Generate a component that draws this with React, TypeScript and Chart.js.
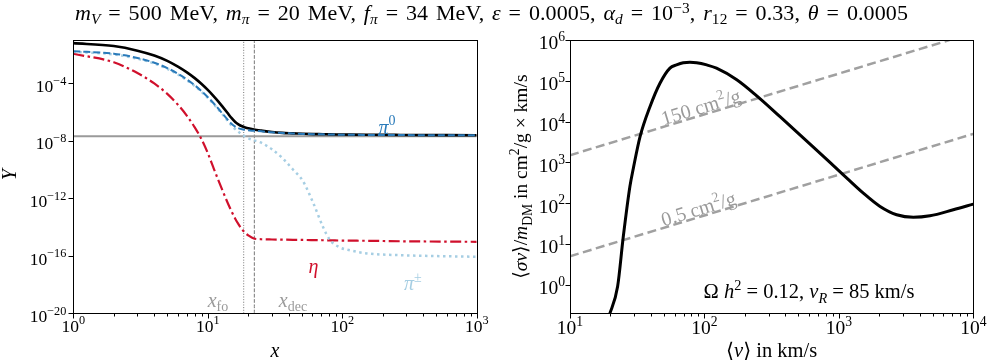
import React, { useEffect, useRef } from 'react';
import { Chart, registerables } from 'chart.js';

Chart.register(...registerables);

const FONT = '"Liberation Serif", "DejaVu Serif", serif';

// ---------- Left panel: abundances Y(x) ----------
const X_GRID = [1, 2, 3, 4, 5, 6, 7, 8, 9, 10, 11, 12, 13, 14, 15, 16, 17, 18, 19, 20, 22, 25, 30, 36, 43, 51, 61, 72, 81, 95, 114, 153, 269, 1000];
const Y_TOTAL = [6.03e-2, 3.8e-2, 1.82e-2, 8.32e-3, 3.55e-3, 1.41e-3, 5.62e-4, 2.24e-4, 8.71e-5, 3.39e-5, 1.32e-5, 5.25e-6, 2.09e-6, 8.71e-7, 3.8e-7, 2.0e-7, 1.32e-7, 1.0e-7, 8.32e-8, 7.24e-8, 6.03e-8, 5.01e-8, 3.98e-8, 3.47e-8, 3.24e-8, 3.02e-8, 2.88e-8, 2.82e-8, 2.75e-8, 2.69e-8, 2.63e-8, 2.57e-8, 2.51e-8, 2.4e-8];
const Y_PI0 = [1.66e-2, 1.12e-2, 5.62e-3, 2.63e-3, 1.12e-3, 4.47e-4, 1.78e-4, 7.08e-5, 2.75e-5, 1.07e-5, 4.17e-6, 1.66e-6, 6.76e-7, 3.02e-7, 1.51e-7, 9.55e-8, 7.24e-8, 6.17e-8, 5.62e-8, 5.25e-8, 4.9e-8, 4.47e-8, 3.8e-8, 3.39e-8, 3.16e-8, 2.95e-8, 2.82e-8, 2.75e-8, 2.69e-8, 2.63e-8, 2.57e-8, 2.51e-8, 2.45e-8, 2.34e-8];
const Y_PIPM = [1.51e-2, 1.0e-2, 5.01e-3, 2.34e-3, 1.0e-3, 3.98e-4, 1.58e-4, 6.31e-5, 2.45e-5, 9.55e-6, 3.72e-6, 1.48e-6, 6.03e-7, 2.51e-7, 1.15e-7, 6.31e-8, 3.98e-8, 2.63e-8, 1.91e-8, 1.48e-8, 1.07e-8, 7.24e-9, 2.51e-9, 6.03e-10, 1.0e-10, 1.58e-11, 4.47e-13, 1.0e-14, 1.26e-15, 3.98e-16, 2.4e-16, 1.45e-16, 1.1e-16, 8.51e-17];
const Y_ETA = [1.1e-2, 2.82e-3, 5.01e-4, 9.55e-5, 1.78e-5, 3.16e-6, 5.37e-7, 8.51e-8, 1.23e-8, 1.38e-9, 1.38e-10, 1.74e-11, 2.75e-12, 5.25e-13, 1.26e-13, 3.8e-14, 1.45e-14, 6.76e-15, 3.89e-15, 2.63e-15, 1.58e-15, 1.41e-15, 1.35e-15, 1.32e-15, 1.29e-15, 1.26e-15, 1.23e-15, 1.2e-15, 1.17e-15, 1.15e-15, 1.12e-15, 1.1e-15, 1.02e-15, 9.33e-16];
const Y_OBS = 2.0e-8;
const X_FO = 18.5;
const X_DEC = 22.2;
const LEFT_X_RANGE = [1, 1000];
const LEFT_Y_RANGE = [1e-20, 1e-1];
const LEFT_X_TICKS = [1, 10, 100, 1000];
const LEFT_Y_TICKS = [1e-20, 1e-16, 1e-12, 1e-8, 1e-4];

// ---------- Right panel: <sigma v>/m vs <v> ----------
const V_GRID = [19.5, 22.6, 24.9, 27.9, 29.6, 33.2, 39.4, 46.7, 55.4, 62, 69.6, 78, 87.5, 104, 123, 174, 245, 365, 646, 1050, 1520, 2025, 2690, 3580, 4760, 7100, 10000];
const SIGV = [0.17, 0.91, 15, 257, 720, 4270, 2.34e4, 8.7e4, 2.04e5, 2.45e5, 2.78e5, 2.85e5, 2.78e5, 2.45e5, 2.04e5, 1.06e5, 4.27e4, 1.32e4, 2380, 540, 176, 83, 52, 45, 49, 69, 95];
const V_REF = [10, 10000];
const REF_150 = [1500, 1.5e6];
const REF_05 = [5, 5000];
const RIGHT_X_RANGE = [10, 10000];
const RIGHT_Y_RANGE = [0.2, 1e6];
const RIGHT_X_TICKS = [10, 100, 1000, 10000];
const RIGHT_Y_TICKS = [1, 10, 100, 1000, 10000, 100000, 1000000];

type Seg = { t: string; i?: boolean; s?: 'sub' | 'sup' };

function segFont(seg: Seg, size: number) {
  const sz = seg.s ? size * 0.7 : size;
  return `${seg.i ? 'italic ' : ''}${sz}px ${FONT}`;
}

function measureRich(ctx: CanvasRenderingContext2D, segs: Seg[], size: number) {
  let w = 0;
  for (const s of segs) {
    ctx.font = segFont(s, size);
    w += ctx.measureText(s.t).width;
  }
  return w;
}

function drawRich(ctx: CanvasRenderingContext2D, segs: Seg[], x: number, y: number, size: number, color: string, align: 'left' | 'center' | 'right' = 'center', rot = 0) {
  ctx.save();
  ctx.translate(x, y);
  ctx.rotate(rot);
  ctx.fillStyle = color;
  ctx.textBaseline = 'alphabetic';
  ctx.textAlign = 'left';
  const w = measureRich(ctx, segs, size);
  let cx = align === 'center' ? -w / 2 : align === 'right' ? -w : 0;
  const base = size * 0.33;
  for (const s of segs) {
    ctx.font = segFont(s, size);
    const dy = s.s === 'sup' ? -size * 0.42 : s.s === 'sub' ? size * 0.22 : 0;
    ctx.fillText(s.t, cx, base + dy);
    cx += ctx.measureText(s.t).width;
  }
  ctx.restore();
}

function expLabel(v: number): Seg[] {
  const e = Math.round(Math.log10(v));
  return [{ t: '10' }, { t: e < 0 ? '\u2212' + Math.abs(e) : String(e), s: 'sup' }];
}

function minorTicks(lo: number, hi: number) {
  const out: number[] = [];
  for (let d = lo; d < hi; d *= 10) for (let k = 2; k <= 9; k++) out.push(d * k);
  return out;
}

function drawFrame(chart: any, xMinor: number[], tickSize: number, xLabDy: number, yLabDx: number) {
  const ctx: CanvasRenderingContext2D = chart.ctx;
  const { left, right, top, bottom } = chart.chartArea;
  const xs = chart.scales.x;
  const ys = chart.scales.y;
  const L = Math.round(left) + 0.5;
  const R = Math.round(right) + 0.5;
  const T = Math.round(top) + 0.5;
  const B = Math.round(bottom) + 0.5;
  ctx.save();
  ctx.strokeStyle = '#000';
  ctx.lineWidth = 1;
  ctx.setLineDash([]);
  ctx.beginPath();
  for (const t of xs.ticks) {
    const px = Math.round(xs.getPixelForValue(t.value)) + 0.5;
    ctx.moveTo(px, B);
    ctx.lineTo(px, B + 5);
  }
  for (const v of xMinor) {
    const px = Math.round(xs.getPixelForValue(v)) + 0.5;
    ctx.moveTo(px, B);
    ctx.lineTo(px, B + 3);
  }
  for (const t of ys.ticks) {
    const py = Math.round(ys.getPixelForValue(t.value)) + 0.5;
    ctx.moveTo(L, py);
    ctx.lineTo(L - 5, py);
  }
  ctx.stroke();
  ctx.strokeRect(L, T, R - L, B - T);
  for (const t of xs.ticks) {
    drawRich(ctx, expLabel(t.value), xs.getPixelForValue(t.value), bottom + xLabDy, tickSize, '#000', 'center');
  }
  for (const t of ys.ticks) {
    drawRich(ctx, expLabel(t.value), left - yLabDx, ys.getPixelForValue(t.value) + 3, tickSize, '#000', 'right');
  }
  ctx.restore();
}

function logAxis(range: number[], ticks: number[], fitKey: 'width' | 'height', fitVal: number) {
  return {
    type: 'logarithmic' as const,
    min: range[0],
    max: range[1],
    grid: { display: false },
    border: { display: false },
    ticks: { display: false },
    afterBuildTicks: (s: any) => {
      s.ticks = ticks.map((v) => ({ value: v, major: true }));
    },
    afterFit: (s: any) => {
      s[fitKey] = fitVal;
    },
  };
}

const pts = (xs: number[], ys: number[]) => xs.map((x, i) => ({ x, y: ys[i] }));

const BLUE = '#2b7bba';
const LIGHT = '#a6cee3';
const RED = '#d0102c';
const GRAY = '#9a9a9a';

export default function App() {
  const leftRef = useRef<HTMLCanvasElement>(null);
  const rightRef = useRef<HTMLCanvasElement>(null);

  useEffect(() => {
    const leftDecor = {
      id: 'leftDecor',
      afterDraw(chart: any) {
        const ctx: CanvasRenderingContext2D = chart.ctx;
        const xs = chart.scales.x;
        const ys = chart.scales.y;
        drawFrame(chart, minorTicks(1, 1000), 17.5, 12.5, 7);
        const P = (x: number, y: number) => [xs.getPixelForValue(x), ys.getPixelForValue(y)];
        let p = P(215, 8.9e-8);
        drawRich(ctx, [{ t: '\u03c0', i: true }, { t: '0', s: 'sup' }], p[0], p[1], 20, BLUE);
        p = P(61, 1.7e-17);
        drawRich(ctx, [{ t: '\u03b7', i: true }], p[0], p[1], 20, RED);
        p = P(335, 1.2e-18);
        drawRich(ctx, [{ t: '\u03c0', i: true }, { t: '\u00b1', s: 'sup' }], p[0], p[1], 20, LIGHT);
        p = P(11.9, 5.75e-20);
        drawRich(ctx, [{ t: 'x', i: true }, { t: 'fo', s: 'sub' }], p[0], p[1] - 2, 20, GRAY);
        p = P(43, 5.75e-20);
        drawRich(ctx, [{ t: 'x', i: true }, { t: 'dec', s: 'sub' }], p[0], p[1] - 2, 20, GRAY);
        const { left, right, top, bottom } = chart.chartArea;
        drawRich(ctx, [{ t: 'x', i: true }], (left + right) / 2, 350, 20, '#000');
        drawRich(ctx, [{ t: 'Y', i: true }], 9, (top + bottom) / 2 - 2, 20, '#000', 'center', -Math.PI / 2);
      },
    };

    const rightDecor = {
      id: 'rightDecor',
      afterDraw(chart: any) {
        const ctx: CanvasRenderingContext2D = chart.ctx;
        const xs = chart.scales.x;
        const ys = chart.scales.y;
        drawFrame(chart, minorTicks(10, 10000), 19.5, 14, 5);
        const P = (x: number, y: number) => [xs.getPixelForValue(x), ys.getPixelForValue(y)];
        const a = P(V_REF[0], REF_150[0]);
        const b = P(V_REF[1], REF_150[1]);
        const ang = Math.atan2(b[1] - a[1], b[0] - a[0]);
        const off = 8;
        let p = P(98, 150 * 98);
        drawRich(ctx, [{ t: '150 cm' }, { t: '2', s: 'sup' }, { t: '/g' }], p[0] + Math.sin(ang) * off, p[1] - Math.cos(ang) * off, 20, GRAY, 'center', ang);
        p = P(94, 0.5 * 94);
        drawRich(ctx, [{ t: '0.5 cm' }, { t: '2', s: 'sup' }, { t: '/g' }], p[0] + Math.sin(ang) * off, p[1] - Math.cos(ang) * off, 20, GRAY, 'center', ang);
        p = P(600, 0.69);
        drawRich(ctx, [{ t: '\u03a9 ' }, { t: 'h', i: true }, { t: '2', s: 'sup' }, { t: ' = 0.12, ' }, { t: 'v', i: true }, { t: 'R', i: true, s: 'sub' }, { t: ' = 85 km/s' }], p[0], p[1], 20.5, '#000');
        const { left, right, top, bottom } = chart.chartArea;
        drawRich(ctx, [{ t: '\u27e8' }, { t: 'v', i: true }, { t: '\u27e9 in km/s' }], (left + right) / 2, 350, 20.5, '#000');
        drawRich(ctx, [{ t: '\u27e8' }, { t: '\u03c3v', i: true }, { t: '\u27e9/' }, { t: 'm', i: true }, { t: 'DM', s: 'sub' }, { t: ' in cm' }, { t: '2', s: 'sup' }, { t: '/g \u00d7 km/s' }], 31, (top + bottom) / 2, 19.5, '#000', 'center', -Math.PI / 2);
      },
    };

    const common = {
      animation: false as const,
      responsive: false,
      devicePixelRatio: 1,
      plugins: { legend: { display: false }, tooltip: { enabled: false } },
      elements: { point: { radius: 0 }, line: { cubicInterpolationMode: 'monotone' as const } },
    };

    const left = new Chart(leftRef.current!, {
      type: 'line',
      data: {
        datasets: [
          { data: pts(X_GRID, Y_PI0), borderColor: BLUE, borderWidth: 2, borderDash: [7, 3], order: 1 },
          { data: pts(X_GRID, Y_PIPM), borderColor: LIGHT, borderWidth: 2.5, borderDash: [2.5, 3.5], order: 2 },
          { data: pts(X_GRID, Y_ETA), borderColor: RED, borderWidth: 2.2, borderDash: [11, 3.5, 2.5, 3.5], order: 3 },
          { data: pts(X_GRID, Y_TOTAL), borderColor: '#000', borderWidth: 2.6, order: 4 },
          { data: pts(LEFT_X_RANGE, [Y_OBS, Y_OBS]), borderColor: GRAY, borderWidth: 2, order: 5 },
          { data: pts([X_FO, X_FO], LEFT_Y_RANGE), borderColor: '#777', borderWidth: 1, borderDash: [1, 1.65], order: 6 },
          { data: pts([X_DEC, X_DEC], LEFT_Y_RANGE), borderColor: '#777', borderWidth: 1, borderDash: [3.7, 1.6], order: 6 },
        ],
      },
      options: {
        ...common,
        layout: { padding: { top: 40, right: 13.3, left: 0, bottom: 0 } },
        scales: {
          x: logAxis(LEFT_X_RANGE, LEFT_X_TICKS, 'height', 50.7),
          y: logAxis(LEFT_Y_RANGE, LEFT_Y_TICKS, 'width', 73.3),
        },
      } as any,
      plugins: [leftDecor],
    });

    const right = new Chart(rightRef.current!, {
      type: 'line',
      data: {
        datasets: [
          { data: pts(V_GRID, SIGV), borderColor: '#000', borderWidth: 3, order: 1 },
          { data: pts(V_REF, REF_150), borderColor: '#a0a0a0', borderWidth: 2.5, borderDash: [9, 4.5], order: 2 },
          { data: pts(V_REF, REF_05), borderColor: '#a0a0a0', borderWidth: 2.5, borderDash: [9, 4.5], order: 2 },
        ],
      },
      options: {
        ...common,
        layout: { padding: { top: 40, right: 13.7, left: 0, bottom: 0 } },
        scales: {
          x: logAxis(RIGHT_X_RANGE, RIGHT_X_TICKS, 'height', 50.7),
          y: logAxis(RIGHT_Y_RANGE, RIGHT_Y_TICKS, 'width', 80),
        },
      } as any,
      plugins: [rightDecor],
    });

    return () => {
      left.destroy();
      right.destroy();
    };
  }, []);

  const sub: React.CSSProperties = { fontSize: '0.7em', verticalAlign: '-0.25em', lineHeight: 0 };
  const sup: React.CSSProperties = { fontSize: '0.7em', verticalAlign: '0.45em', lineHeight: 0 };

  return (
    <div style={{ position: 'absolute', left: 0, top: 0, width: 987, height: 364, background: '#fff', overflow: 'hidden' }}>
      <canvas ref={leftRef} width={490} height={364} style={{ position: 'absolute', left: 0, top: 0, width: 490, height: 364 }} />
      <canvas ref={rightRef} width={497} height={364} style={{ position: 'absolute', left: 490, top: 0, width: 497, height: 364 }} />
      <div style={{ position: 'absolute', left: -2, top: 1, width: 987, textAlign: 'center', fontFamily: FONT, fontSize: 22, lineHeight: '24px', letterSpacing: 0.1, wordSpacing: 2.2, color: '#000', whiteSpace: 'nowrap' }}>
        <i>m</i><span style={sub}><i>V</i></span> = 500 MeV, <i>m</i><span style={sub}><i>π</i></span> = 20 MeV, <i>f</i><span style={sub}><i>π</i></span> = 34 MeV, <i>ε</i> = 0.0005, <i>α</i><span style={sub}><i>d</i></span> = 10<span style={sup}>−3</span>, <i>r</i><span style={sub}>12</span> = 0.33, <i>θ</i> = 0.0005
      </div>
    </div>
  );
}
